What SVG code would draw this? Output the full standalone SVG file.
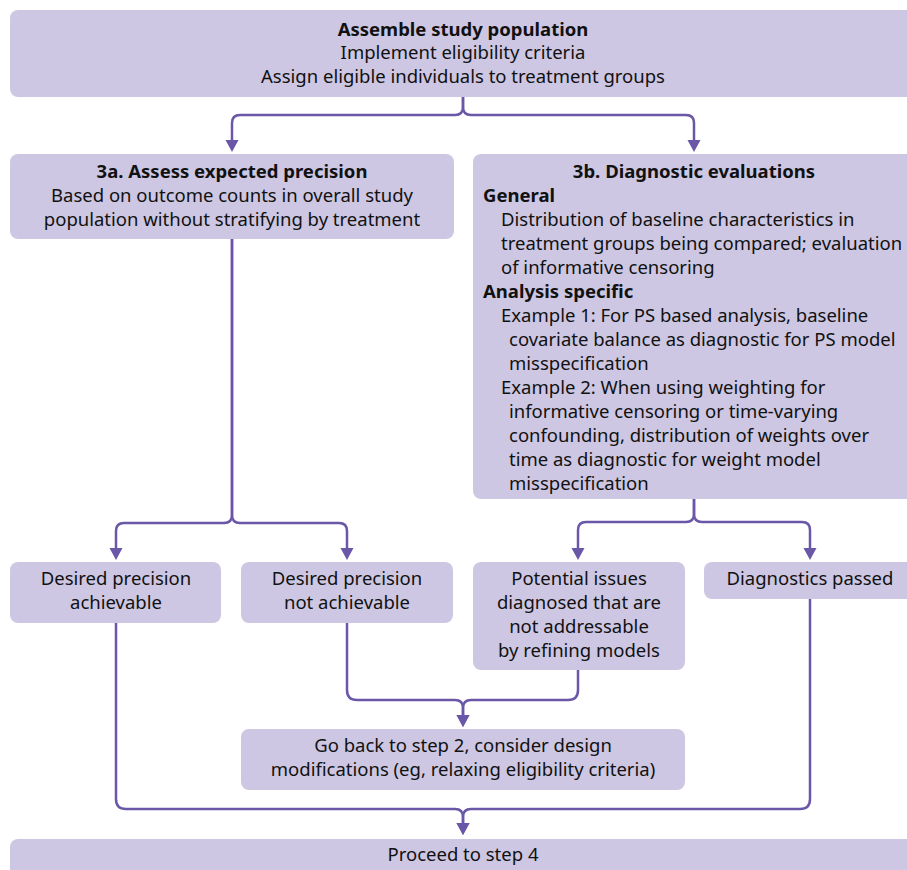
<svg xmlns="http://www.w3.org/2000/svg" width="907" height="870" viewBox="0 0 907 870">
<style>
.box{fill:#cdc7e3;}
text{font-family:"Noto Sans","Liberation Sans",Arial,sans-serif;font-size:18.5px;fill:#111;}
.c{text-anchor:middle;}
.b{font-weight:bold;}
.conn{fill:none;stroke:#6b57a8;stroke-width:2.5;}
</style>
<defs>
<marker id="ah" markerUnits="userSpaceOnUse" markerWidth="14" markerHeight="14" refX="2" refY="6.5" orient="auto">
<path d="M0,0 L12,6.5 L0,13 z" fill="#6b57a8"/>
</marker>
</defs>
<rect width="907" height="870" fill="#fff"/>
<g id="connectors">
<path class="conn" d="M463,97 V107 Q463,115 455,115 H240 Q232,115 232,123 V142" marker-end="url(#ah)"/>
<path class="conn" d="M463,97 V107 Q463,115 471,115 H686 Q694,115 694,123 V142" marker-end="url(#ah)"/>
<path class="conn" d="M232,239 V515 Q232,523 224,523 H124 Q116,523 116,531 V550" marker-end="url(#ah)"/>
<path class="conn" d="M232,239 V515 Q232,523 240,523 H339 Q347,523 347,531 V550" marker-end="url(#ah)"/>
<path class="conn" d="M694,499 V514 Q694,522 686,522 H586 Q578,522 578,530 V550" marker-end="url(#ah)"/>
<path class="conn" d="M694,499 V514 Q694,522 702,522 H802 Q810,522 810,530 V550" marker-end="url(#ah)"/>
<path class="conn" d="M347,623 V690 Q347,700 357,700 H455 Q463,700 463,708 V717" marker-end="url(#ah)"/>
<path class="conn" d="M578,670 V690 Q578,700 568,700 H471 Q463,700 463,708 V717" marker-end="url(#ah)"/>
<path class="conn" d="M116,623 V799 Q116,809 126,809 H455 Q463,809 463,817 V825" marker-end="url(#ah)"/>
<path class="conn" d="M810,599 V799 Q810,809 800,809 H471 Q463,809 463,817 V825" marker-end="url(#ah)"/>
</g>
<g id="assemble">
<rect class="box" x="10" y="10" width="910" height="87" rx="8"/>
<text class="c b" x="463" y="36">Assemble study population</text>
<text class="c" x="463" y="59">Implement eligibility criteria</text>
<text class="c" x="463" y="83">Assign eligible individuals to treatment groups</text>
</g>
<g id="precision">
<rect class="box" x="10" y="154" width="444" height="85" rx="8"/>
<text class="c b" x="232" y="178">3a. Assess expected precision</text>
<text class="c" x="232" y="202">Based on outcome counts in overall study</text>
<text class="c" x="232" y="226">population without stratifying by treatment</text>
</g>
<g id="diagnostic">
<rect class="box" x="473" y="154" width="450" height="345" rx="8"/>
<text class="c b" x="694" y="178">3b. Diagnostic evaluations</text>
<text class="b" x="483" y="202">General</text>
<text x="501" y="226">Distribution of baseline characteristics in</text>
<text x="501" y="250">treatment groups being compared; evaluation</text>
<text x="501" y="274">of informative censoring</text>
<text class="b" x="483" y="298">Analysis specific</text>
<text x="501" y="322">Example 1: For PS based analysis, baseline</text>
<text x="509" y="346">covariate balance as diagnostic for PS model</text>
<text x="509" y="370">misspecification</text>
<text x="501" y="394">Example 2: When using weighting for</text>
<text x="509" y="418">informative censoring or time-varying</text>
<text x="509" y="442">confounding, distribution of weights over</text>
<text x="509" y="466">time as diagnostic for weight model</text>
<text x="509" y="490">misspecification</text>
</g>
<g id="achievable">
<rect class="box" x="10" y="562" width="211" height="61" rx="8"/>
<text class="c" x="116" y="585">Desired precision</text>
<text class="c" x="116" y="609">achievable</text>
</g>
<g id="not-achievable">
<rect class="box" x="241" y="562" width="212" height="61" rx="8"/>
<text class="c" x="347" y="585">Desired precision</text>
<text class="c" x="347" y="609">not achievable</text>
</g>
<g id="issues">
<rect class="box" x="473" y="562" width="212" height="108" rx="8"/>
<text class="c" x="579" y="585">Potential issues</text>
<text class="c" x="579" y="609">diagnosed that are</text>
<text class="c" x="579" y="633">not addressable</text>
<text class="c" x="579" y="657">by refining models</text>
</g>
<g id="passed">
<rect class="box" x="704" y="562" width="220" height="37" rx="8"/>
<text class="c" x="810" y="585">Diagnostics passed</text>
</g>
<g id="goback">
<rect class="box" x="241" y="729" width="444" height="61" rx="8"/>
<text class="c" x="463" y="752">Go back to step 2, consider design</text>
<text class="c" x="463" y="776">modifications (eg, relaxing eligibility criteria)</text>
</g>
<g id="proceed">
<rect class="box" x="10" y="839" width="910" height="45" rx="8"/>
<text class="c" x="463" y="861">Proceed to step 4</text>
</g>
</svg>
